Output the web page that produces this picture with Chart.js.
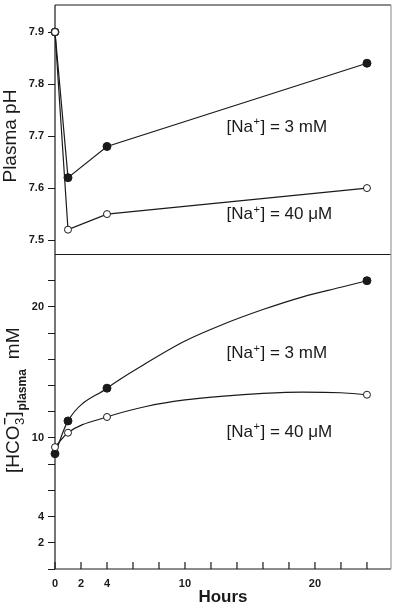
<!DOCTYPE html>
<html>
<head>
<meta charset="utf-8">
<script src="https://cdn.jsdelivr.net/npm/chart.js@4.4.1/dist/chart.umd.min.js"></script>
<style>
  html, body { margin: 0; padding: 0; background: #fff; }
  #wrap { position: relative; width: 396px; height: 609px; }
</style>
</head>
<body>
<div id="wrap"><canvas id="acidChart" width="396" height="609"></canvas></div>
<script>
'use strict';

// sampling times (hours)
const HOURS = [0, 1, 4, 24];

// plasma pH
const PH_3MM = [7.90, 7.62, 7.68, 7.84];
const PH_40UM = [7.90, 7.52, 7.55, 7.60];

// plasma bicarbonate (mM), measured points
const HCO3_3MM = [8.8, 11.3, 13.8, 22.0];
const HCO3_40UM = [9.3, 10.4, 11.6, 13.3];

// the hand-drawn curves through the bicarbonate points
const CURVE_HOURS = [0, 1, 4, 7, 10, 13, 16, 19, 22, 24];
const CURVE_3MM = [8.8, 11.3, 13.8, 15.7, 17.4, 18.7, 19.8, 20.75, 21.5, 22.0];
const CURVE_40UM = [9.3, 10.4, 11.6, 12.4, 12.9, 13.2, 13.4, 13.5, 13.45, 13.3];

// ticks
const X_TICKS = [0, 2, 4, 6, 8, 10, 12, 14, 16, 18, 20, 22, 24];
const X_TICK_LABELS = [0, 2, 4, 10, 20];
const PH_TICKS = [7.5, 7.6, 7.7, 7.8, 7.9];
const HCO3_TICKS = [0, 2, 4, 6, 8, 10, 12, 14, 16, 18, 20, 22];
const HCO3_TICK_LABELS = [2, 4, 10, 20];

const NA_LEVELS = ['3 mM', '40 μM'];

const FONT = '"Liberation Sans", Arial, Helvetica, sans-serif';
const INK = '#1a1a1a';

const pts = (xs, ys) => xs.map((x, i) => ({ x, y: ys[i] }));

// where the [Na+] captions sit, in data units of each panel
const CAPTIONS = [
  { axis: 'yTop', x: 13.2, y: 7.717, level: NA_LEVELS[0] },
  { axis: 'yTop', x: 13.2, y: 7.549, level: NA_LEVELS[1] },
  { axis: 'yBot', x: 13.2, y: 16.43, level: NA_LEVELS[0] },
  { axis: 'yBot', x: 13.2, y: 10.46, level: NA_LEVELS[1] },
];

const filled = {
  borderColor: INK,
  borderWidth: 1.2,
  pointRadius: 4,
  pointBackgroundColor: INK,
  pointBorderColor: INK,
  pointBorderWidth: 1,
  clip: false,
  order: 1,
};
const open = {
  borderColor: INK,
  borderWidth: 1.2,
  pointRadius: 3.5,
  pointBackgroundColor: '#fff',
  pointBorderColor: INK,
  pointBorderWidth: 1,
  clip: false,
  order: 0,
};
const curve = {
  borderColor: INK,
  borderWidth: 1.2,
  pointRadius: 0,
  cubicInterpolationMode: 'monotone',
  clip: false,
  order: 2,
};

const noPadding = (s) => {
  s.paddingTop = 0;
  s.paddingBottom = 0;
  s.paddingLeft = 0;
  s.paddingRight = 0;
};

const drawNaCaption = (ctx, x, y, level) => {
  ctx.textBaseline = 'middle';
  ctx.textAlign = 'left';
  ctx.font = '17px ' + FONT;
  ctx.fillText('[Na', x, y);
  let cx = x + ctx.measureText('[Na').width;
  ctx.font = '11px ' + FONT;
  ctx.fillText('+', cx + 0.5, y - 5);
  cx += ctx.measureText('+').width + 1;
  ctx.font = '17px ' + FONT;
  ctx.fillText('] = ' + level, cx, y);
};

const framePlugin = {
  id: 'frame',
  beforeDatasetsDraw(chart) {
    const { ctx, chartArea: a, scales } = chart;
    const line = (x1, y1, x2, y2) => {
      ctx.beginPath();
      ctx.moveTo(x1, y1);
      ctx.lineTo(x2, y2);
      ctx.stroke();
    };
    ctx.save();
    ctx.strokeStyle = INK;
    ctx.lineWidth = 1.2;
    line(a.left, a.top, a.right, a.top);
    line(a.left, a.top, a.left, a.bottom);
    line(a.left, a.bottom, a.right, a.bottom);
    const ySep = Math.round(scales.yTop.bottom) + 0.5;
    line(a.left, ySep, a.right, ySep);
    // x ticks point into the plot
    for (const v of X_TICKS) {
      const px = scales.x.getPixelForValue(v);
      line(px, a.bottom, px, a.bottom - 7);
    }
    ctx.strokeStyle = '#9a9a9a';
    line(a.right, a.top, a.right, a.bottom);
    ctx.restore();
  },
  afterDatasetsDraw(chart) {
    const { ctx, scales } = chart;
    ctx.save();
    ctx.fillStyle = INK;
    for (const c of CAPTIONS) {
      drawNaCaption(ctx, scales.x.getPixelForValue(c.x), scales[c.axis].getPixelForValue(c.y), c.level);
    }

    // y titles, rotated
    ctx.textBaseline = 'alphabetic';
    ctx.textAlign = 'left';

    ctx.save();
    ctx.translate(16, scales.yTop.getPixelForValue(7.7));
    ctx.rotate(-Math.PI / 2);
    ctx.font = '19px ' + FONT;
    ctx.textAlign = 'center';
    ctx.fillText('Plasma pH', 0, 0);
    ctx.restore();

    ctx.save();
    ctx.translate(19, 473);
    ctx.rotate(-Math.PI / 2);
    let cx = 0;
    ctx.font = '19px ' + FONT;
    ctx.fillText('[HCO', cx, 0);
    cx += ctx.measureText('[HCO').width + 0.5;
    ctx.font = '13px ' + FONT;
    ctx.fillText('3', cx, 5);
    ctx.font = 'bold 13px ' + FONT;
    ctx.fillText('\u2212', cx, -10);
    cx += ctx.measureText('3').width + 1;
    ctx.font = '19px ' + FONT;
    ctx.fillText(']', cx, 0);
    cx += ctx.measureText(']').width + 1;
    ctx.font = 'bold 12px ' + FONT;
    ctx.fillText('plasma', cx, 7);
    cx += ctx.measureText('plasma').width + 10;
    ctx.font = '19px ' + FONT;
    ctx.fillText('mM', cx, 0);
    ctx.restore();

    ctx.restore();
  },
};

const tickFont = { family: FONT, size: 11, weight: 'bold' };

const chartConfig = {
  type: 'line',
  data: {
    datasets: [
      { ...filled, label: NA_LEVELS[0], data: pts(HOURS, PH_3MM), yAxisID: 'yTop' },
      { ...open, label: NA_LEVELS[1], data: pts(HOURS, PH_40UM), yAxisID: 'yTop' },
      { ...curve, label: NA_LEVELS[0], data: pts(CURVE_HOURS, CURVE_3MM), yAxisID: 'yBot' },
      { ...curve, label: NA_LEVELS[1], data: pts(CURVE_HOURS, CURVE_40UM), yAxisID: 'yBot' },
      { ...filled, label: NA_LEVELS[0], data: pts(HOURS, HCO3_3MM), yAxisID: 'yBot', showLine: false },
      { ...open, label: NA_LEVELS[1], data: pts(HOURS, HCO3_40UM), yAxisID: 'yBot', showLine: false },
    ],
  },
  options: {
    responsive: false,
    animation: false,
    events: [],
    layout: { padding: { top: 3, right: 4, left: 0, bottom: 0 } },
    scales: {
      x: {
        type: 'linear',
        min: 0,
        max: 25.85,
        afterBuildTicks: (s) => { s.ticks = X_TICKS.map((value) => ({ value })); },
        afterFit: (s) => { s.height = 40; noPadding(s); },
        grid: { display: false, drawTicks: false },
        border: { display: false },
        ticks: {
          autoSkip: false,
          maxRotation: 0,
          padding: 8,
          color: INK,
          font: tickFont,
          callback: (v) => (X_TICK_LABELS.includes(v) ? String(v) : ''),
        },
        title: {
          display: true,
          text: 'Hours',
          color: INK,
          font: { family: FONT, size: 17, weight: 'bold' },
          padding: { top: 0, bottom: 1 },
        },
      },
      // the first axis of a left stack is placed at the bottom
      yBot: {
        type: 'linear',
        position: 'left',
        stack: 'panels',
        stackWeight: 316,
        min: 0,
        max: 24.03,
        afterBuildTicks: (s) => { s.ticks = HCO3_TICKS.map((value) => ({ value })); },
        afterFit: (s) => { s.width = 55; noPadding(s); },
        grid: { drawOnChartArea: false, drawTicks: true, tickLength: 7, color: INK, lineWidth: 1 },
        border: { display: false },
        ticks: {
          autoSkip: false,
          padding: 4,
          color: INK,
          font: tickFont,
          callback: (v) => (HCO3_TICK_LABELS.includes(v) ? String(v) : ''),
        },
      },
      yTop: {
        type: 'linear',
        position: 'left',
        stack: 'panels',
        stackWeight: 250,
        min: 7.473,
        max: 7.952,
        afterBuildTicks: (s) => { s.ticks = PH_TICKS.map((value) => ({ value })); },
        afterFit: (s) => { s.width = 55; noPadding(s); },
        grid: { drawOnChartArea: false, drawTicks: true, tickLength: 7, color: INK, lineWidth: 1 },
        border: { display: false },
        ticks: {
          autoSkip: false,
          padding: 4,
          color: INK,
          font: tickFont,
          callback: (v) => v.toFixed(1),
        },
      },
    },
    plugins: {
      legend: { display: false },
      tooltip: { enabled: false },
    },
  },
  plugins: [framePlugin],
};

new Chart(document.getElementById('acidChart'), chartConfig);
</script>
</body>
</html>
